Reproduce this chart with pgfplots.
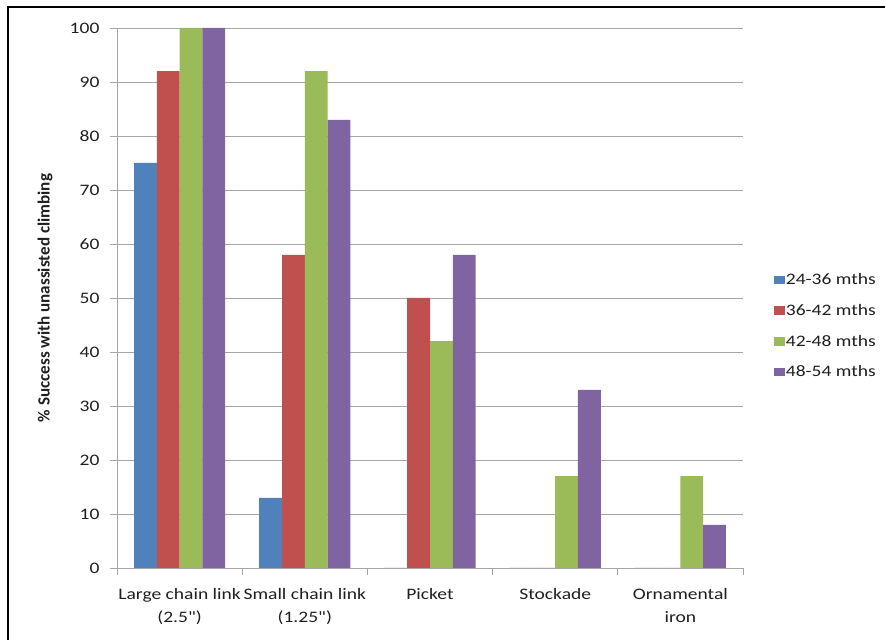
\documentclass[border=0pt]{standalone}
\usepackage{pgfplots}
\pgfplotsset{compat=1.18}
\usepackage{fontspec}
\setmainfont{Carlito}[FakeStretch=1.22, Ligatures=TeXOff]
\newfontfamily\ylabfont{Carlito}

\definecolor{agea}{HTML}{4F81BD}
\definecolor{ageb}{HTML}{C0504D}
\definecolor{agec}{HTML}{9BBB59}
\definecolor{aged}{HTML}{8064A2}
\definecolor{gridc}{HTML}{A6A6A6}
\definecolor{txt}{HTML}{1F1F1F}

\begin{document}
\begin{tikzpicture}
\useasboundingbox (0pt,0pt) rectangle (663.75pt,479.25pt);
% outer frame (left and top edges)
\draw[line width=1.5pt, black] (6.2pt,-2pt) -- (6.2pt,473.8pt) -- (666pt,473.8pt);
\begin{axis}[
  at={(87.75pt,53.25pt)}, anchor=south west,
  scale only axis, width=469.5pt, height=405pt,
  xmin=-0.5, xmax=4.5, ymin=0, ymax=100,
  axis lines*=left,
  axis line style={gridc, line width=0.7pt},
  tick align=outside,
  major tick length=5pt,
  tick style={gridc, line width=0.7pt},
  ytick={0,10,...,100},
  ymajorgrids,
  major grid style={gridc, line width=0.7pt},
  xtick={-0.5,0.5,...,4.5},
  xticklabels={},
  extra x ticks={0,1,2,3,4},
  extra x tick labels={{Large chain link\\(2.5")},{Small chain link\\(1.25")},{Picket},{Stockade},{Ornamental\\iron}},
  extra x tick style={major tick length=0pt,
    tick label style={align=center, anchor=north, inner sep=0pt, yshift=-15pt,
      font=\fontsize{12}{17.3}\selectfont, text=txt}},
  /pgf/number format/assume math mode=true,
  yticklabel style={font=\fontsize{12}{14}\selectfont, text=txt, anchor=east, inner sep=0pt, xshift=-8pt},
  ylabel={\% Success with unassisted climbing},
  ylabel style={at={(axis description cs:-0.115,0.5)}, anchor=center,
    font=\ylabfont\bfseries\fontsize{12.8}{15}\selectfont, text=txt},
  ybar=0pt, bar width=0.182,
  legend cell align=left,
  legend image code/.code={\fill[#1] (0pt,-3.3pt) rectangle (8pt,3.3pt);},
  legend style={at={(rel axis cs:1,0.448)}, anchor=west, xshift=20pt,
    draw=none, fill=none, font=\fontsize{12}{14}\selectfont, text=txt,
    row sep=10pt, nodes={inner sep=1pt, text height=9pt, text depth=2pt}},
]
\addplot[fill=agea, draw=none] coordinates {(0,75) (1,13) (2,0) (3,0) (4,0)};
\addplot[fill=ageb, draw=none] coordinates {(0,92) (1,58) (2,50) (3,0) (4,0)};
\addplot[fill=agec, draw=none] coordinates {(0,100) (1,92) (2,42) (3,17) (4,17)};
\addplot[fill=aged, draw=none] coordinates {(0,100) (1,83) (2,58) (3,33) (4,8)};
\legend{24-36 mths,36-42 mths,42-48 mths,48-54 mths}
\end{axis}
\end{tikzpicture}
\end{document}
